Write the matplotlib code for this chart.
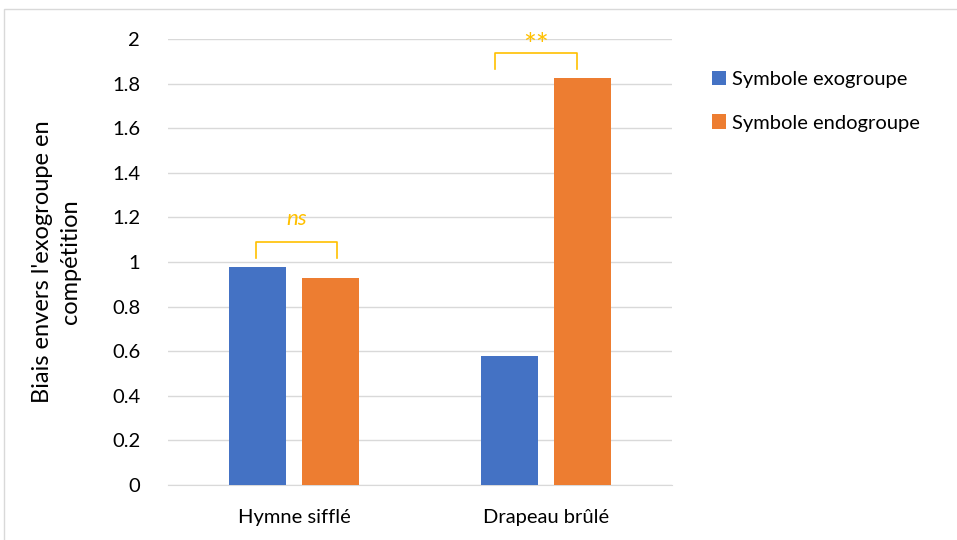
import matplotlib.pyplot as plt
from matplotlib.patches import Rectangle
import numpy as np

categories = ["Hymne sifflé", "Drapeau brûlé"]
exogroupe = [0.978, 0.578]
endogroupe = [0.928, 1.825]
series_names = ["Symbole exogroupe", "Symbole endogroupe"]
signif = ["ns", "**"]
yticks = [0, 0.2, 0.4, 0.6, 0.8, 1, 1.2, 1.4, 1.6, 1.8, 2]

plt.rcParams['font.family'] = ['Lato', 'DejaVu Sans']

fig = plt.figure(figsize=(9.57, 5.4), dpi=100)
ax = fig.add_axes([168 / 957, 1 - 485 / 540, 504 / 957, 446 / 540])

x = np.arange(len(categories))
w = 0.226
off = 0.143
ax.bar(x - off, exogroupe, w, color="#4472C4", label=series_names[0], zorder=3)
ax.bar(x + off, endogroupe, w, color="#ED7D31", label=series_names[1], zorder=3)

# significance brackets (left / right edge offsets from category centre)
gold = "#FFC000"
bracket_l = [-0.151, -0.202]
bracket_r = [0.171, 0.123]
for i, s in enumerate(signif):
    top = max(exogroupe[i], endogroupe[i])
    yb = top + 0.11
    xl, xr = x[i] + bracket_l[i], x[i] + bracket_r[i]
    ax.plot([xl, xl, xr, xr], [yb - 0.07, yb, yb, yb - 0.07], color=gold, lw=1.2, zorder=4)
    xc = x[i] + (bracket_l[i] + bracket_r[i]) / 2
    if s == "ns":
        ax.text(xc, yb + 0.105, s, color=gold, fontsize=16, style="italic",
                ha="center", va="center")
    else:
        ax.text(xc, yb + 0.035, s, color=gold, fontsize=22,
                ha="center", va="center")

ax.set_xlim(-0.5, 1.5)
ax.set_ylim(0, 2)
ax.set_yticks(yticks)
ax.set_yticklabels([f"{t:g}" for t in yticks])
ax.set_xticks(x)
ax.set_xticklabels(categories)
ax.tick_params(length=0, labelsize=14.5, colors="black")
ax.tick_params(axis="x", pad=17)
ax.tick_params(axis="y", pad=20)
ax.grid(axis="y", color="#D9D9D9", lw=1, zorder=0)
for sp in ["top", "right", "left"]:
    ax.spines[sp].set_visible(False)
ax.spines["bottom"].set_color("#D9D9D9")

ax.set_ylabel("Biais envers l'exogroupe en\ncompétition", fontsize=17, labelpad=22,
              linespacing=1.45)

fig.legend(loc="upper left", bbox_to_anchor=(694 / 957, 1 - 53 / 540), frameon=False,
           fontsize=14.5, handlelength=0.7, handleheight=0.7, handletextpad=0.3,
           labelspacing=1.3)

fig.patches.append(Rectangle((4 / 957, -0.1), 1.1, 1 - 9 / 540 + 0.1, transform=fig.transFigure,
                             fill=False, edgecolor="#D9D9D9", lw=1))

fig.savefig("out.png", dpi=100)
